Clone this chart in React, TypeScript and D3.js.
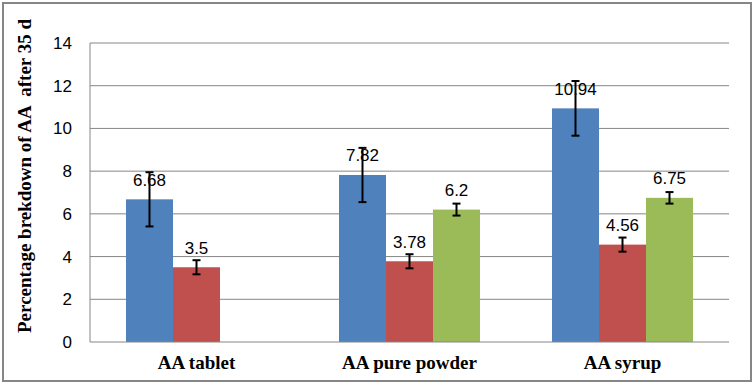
import * as d3 from 'd3';

const categories = ['AA tablet', 'AA pure powder', 'AA syrup'];
const seriesKeys = ['s1', 's2', 's3'];
const seriesColors = ['#4F81BD', '#C0504D', '#9BBB59'];
const blueValues = [6.68, 7.82, 10.94];
const blueErrors = [1.27, 1.27, 1.28];
const redValues = [3.5, 3.78, 4.56];
const redErrors = [0.33, 0.33, 0.33];
const greenValues: (number | null)[] = [null, 6.2, 6.75];
const greenErrors: (number | null)[] = [null, 0.28, 0.27];
const yTicks = [0, 2, 4, 6, 8, 10, 12, 14];
const yTitle = 'Percentage brekdown of AA  after 35 d';

const values = [blueValues, redValues, greenValues];
const errors = [blueErrors, redErrors, greenErrors];

const App = (): JSX.Element => {
  const width = 754;
  const height = 385;
  const left = 90;
  const right = 729;
  const top = 43;
  const bottom = 342;

  const x0 = d3.scaleBand<string>()
    .domain(categories)
    .range([left, right])
    .paddingInner(0.338)
    .paddingOuter(0.169);
  const x1 = d3.scaleBand<string>()
    .domain(seriesKeys)
    .range([0, x0.bandwidth()]);
  const y = d3.scaleLinear().domain([0, 14]).range([bottom, top]);

  const grid = '#868686';

  return (
    <svg width={width} height={height} style={{ position: 'absolute', left: 0, top: 0 }}>
      <rect x={0} y={0} width={width} height={height} fill="white" />
      <rect x={3} y={3} width={748} height={378} fill="none" stroke={grid} strokeWidth={2} />

      {yTicks.map(t => (
        <g key={t}>
          {t > 0 && <line x1={left} x2={right} y1={y(t)} y2={y(t)} stroke={grid} strokeWidth={1} />}
          <text x={72} y={y(t) + 6} textAnchor="end" fontFamily="Liberation Sans, Arial, sans-serif"
            fontSize={17} fill="#000">{t}</text>
        </g>
      ))}
      <line x1={left} x2={left} y1={top} y2={bottom} stroke={grid} strokeWidth={1} />

      {categories.map((c, ci) => (
        <g key={c}>
          {seriesKeys.map((k, si) => {
            const v = values[si][ci];
            if (v == null) return null;
            const e = errors[si][ci] as number;
            const bx = (x0(c) as number) + (x1(k) as number);
            const bw = x1.bandwidth();
            const cx = bx + bw / 2;
            return (
              <g key={k}>
                <rect x={bx} y={y(v)} width={bw} height={bottom - y(v)} fill={seriesColors[si]} />
                <text x={cx} y={y(v) - 13.5} textAnchor="middle"
                  fontFamily="Liberation Sans, Arial, sans-serif" fontSize={17} fill="#000">{v}</text>
                <g stroke="#000" strokeWidth={2}>
                  <line x1={cx} x2={cx} y1={y(v + e)} y2={y(v - e)} />
                  <line x1={cx - 4} x2={cx + 4} y1={y(v + e)} y2={y(v + e)} />
                  <line x1={cx - 4} x2={cx + 4} y1={y(v - e)} y2={y(v - e)} />
                </g>
              </g>
            );
          })}
          <text x={(x0(c) as number) + x0.bandwidth() / 2} y={369} textAnchor="middle"
            fontFamily="Liberation Serif, Times New Roman, serif" fontWeight="bold" fontSize={19}
            fill="#000">{c}</text>
        </g>
      ))}
      <line x1={left} x2={right} y1={bottom} y2={bottom} stroke={grid} strokeWidth={1} />

      <text transform={`translate(31,${(13 + 339) / 2}) rotate(-90)`} textAnchor="middle"
        fontFamily="Liberation Serif, Times New Roman, serif" fontWeight="bold" fontSize={19}
        fill="#000" style={{ whiteSpace: 'pre' }}>{yTitle}</text>
    </svg>
  );
};

export default App;
